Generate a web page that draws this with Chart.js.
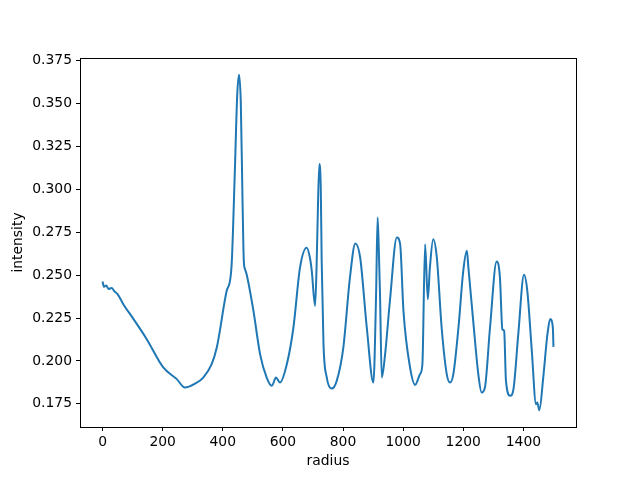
<!DOCTYPE html>
<html>
<head>
<meta charset="utf-8">
<script src="https://cdn.jsdelivr.net/npm/chart.js@4"></script>
<style>
  html, body { margin: 0; padding: 0; background: #fff; }
  #wrap { width: 640px; height: 480px; }
</style>
</head>
<body>
<div id="wrap"><canvas id="grafico" width="640" height="480"></canvas></div>
<script>
// values
var radius = [0,5,12,20,30,40,50,69,103,147,202,247,274,308,335,363,380,413,424,430,440,448,454,460,466,470,474,480,
  502,524,546,563,577,590,613,635,657,679,690,696,707,712,715,721,726,729,735,746,762,779,801,823,841,857,879,901,
  910,915,919,923,929,940,956,979,990,1001,1023,1040,1056,1064,1073,1082,1089,1100,1112,1128,1145,1156,1167,1184,
  1200,1212,1217,1234,1250,1261,1272,1289,1311,1322,1330,1336,1342,1356,1367,1383,1402,1413,1428,1442,1446,1453,
  1466,1480,1489,1498,1500];
var intensity = [0.2463,0.2432,0.2440,0.2420,0.2425,0.2405,0.2390,0.2331,0.2244,0.2127,0.1962,0.1894,0.1845,0.1868,
  0.1903,0.1981,0.2078,0.2409,0.2467,0.2580,0.3100,0.3550,0.3668,0.3500,0.2900,0.2580,0.2535,0.2500,
  0.2292,0.2040,0.1903,0.1855,0.1903,0.1874,0.1981,0.2195,0.2545,0.2660,0.2600,0.2525,0.2321,0.2550,0.2778,0.3148,
  0.3000,0.2584,0.2098,0.1903,0.1839,0.1884,0.2078,0.2486,0.2685,0.2603,0.2195,0.1874,
  0.2390,0.2836,0.2650,0.2390,0.1903,0.2040,0.2351,0.2720,0.2681,0.2292,0.1962,0.1861,0.1923,0.1981,0.2681,0.2360,
  0.2545,0.2710,0.2603,0.2195,0.1923,0.1874,0.1923,0.2195,
  0.2525,0.2642,0.2545,0.2215,0.1923,0.1816,0.1845,0.2195,0.2580,0.2486,0.2185,0.2175,0.1884,0.1797,0.1836,0.2156,
  0.2502,0.2409,0.2059,0.1748,0.1758,0.1713,0.1903,0.2156,0.2244,0.2195,0.2082];
var xTicks = [0,200,400,600,800,1000,1200,1400];
var yTicks = [0.175,0.200,0.225,0.250,0.275,0.300,0.325,0.350,0.375];

var points = radius.map(function (r, i) { return { x: r, y: intensity[i] }; });

var fonte = { family: 'DejaVu Sans', size: 13.9 };

// matplotlib style box around the plot area
var caixa = {
  id: 'caixa',
  afterDraw: function (chart) {
    var a = chart.chartArea, c = chart.ctx;
    c.save();
    c.strokeStyle = '#000';
    c.lineWidth = 1;
    c.strokeRect(Math.round(a.left) + 0.5, Math.round(a.top) + 0.5,
      Math.round(a.right - a.left), Math.round(a.bottom - a.top));
    c.restore();
  }
};

var ctx = document.querySelector('#grafico').getContext('2d');
var grafico = new Chart(ctx, {
  type: 'line',
  data: {
    datasets: [{
      data: points,
      borderColor: '#1f77b4',
      borderWidth: 2,
      pointRadius: 0,
      fill: false,
      cubicInterpolationMode: 'monotone'
    }]
  },
  options: {
    responsive: false,
    animation: false,
    layout: { padding: { left: 0, right: 64, top: 58, bottom: 0 } },
    plugins: { legend: { display: false }, tooltip: { enabled: false } },
    scales: {
      x: {
        type: 'linear',
        min: -75,
        max: 1575,
        afterBuildTicks: function (s) { s.ticks = xTicks.map(function (v) { return { value: v }; }); },
        afterFit: function (s) { s.height = 53; },
        grid: { drawOnChartArea: false, drawTicks: true, tickLength: 4, color: '#000' },
        border: { display: false },
        ticks: { color: '#000', font: fonte, padding: 3, maxRotation: 0,
          callback: function (v) { return String(v); } },
        title: { display: true, text: 'radius', color: '#000', font: fonte, padding: { top: 2, bottom: 10 } }
      },
      y: {
        type: 'linear',
        min: 0.1615,
        max: 0.3766,
        afterBuildTicks: function (s) { s.ticks = yTicks.map(function (v) { return { value: v }; }); },
        afterFit: function (s) { s.width = 80; },
        grid: { drawOnChartArea: false, drawTicks: true, tickLength: 4, color: '#000' },
        border: { display: false },
        ticks: { color: '#000', font: fonte, padding: 4,
          callback: function (v) { return v.toFixed(3); } },
        title: { display: true, text: 'intensity', color: '#000', font: fonte, padding: { top: 10, bottom: 4 } }
      }
    }
  },
  plugins: [caixa]
});
</script>
</body>
</html>
